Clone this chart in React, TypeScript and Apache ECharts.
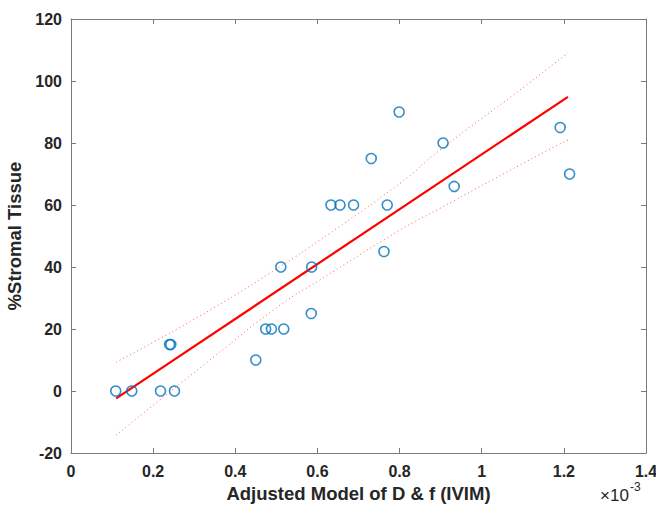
import React, { useEffect, useRef } from "react";
import * as echarts from "echarts";

// x values are in units of 1e-3
const pointsX = [0.109, 0.148, 0.218, 0.252, 0.240, 0.243, 0.450, 0.474, 0.488, 0.518, 0.511, 0.585, 0.586, 0.633, 0.655, 0.688, 0.731, 0.762, 0.770, 0.799, 0.906, 0.933, 1.191, 1.214];
const pointsY = [0, 0, 0, 0, 15, 15, 10, 20, 20, 20, 40, 25, 40, 60, 60, 60, 75, 45, 60, 90, 80, 66, 85, 70];

const fitX = [0.11, 1.21];
const fitY = [-2.4, 94.9];

const upperX = [0.11, 0.314, 0.509, 0.606, 0.801, 0.898, 1.093, 1.21];
const upperY = [9.3, 24.2, 40.1, 48.7, 67.0, 77.7, 97.1, 109.1];
const lowerX = [0.11, 0.343, 0.509, 0.606, 0.801, 0.898, 1.093, 1.21];
const lowerY = [-14.2, 10.5, 27.7, 35.8, 51.9, 58.9, 72.9, 81.0];

const xTitle = "Adjusted Model of D & f (IVIM)";
const yTitle = "%Stromal Tissue";
const exponentBase = "×10";
const exponentPower = "-3";

const zip = (xs: number[], ys: number[]) => xs.map((x, i) => [x, ys[i]]);

export default function App() {
  const ref = useRef<HTMLDivElement>(null);
  useEffect(() => {
    if (!ref.current) return;
    const chart = echarts.init(ref.current, null, { renderer: "svg" });
    const font = "'Liberation Sans', Arial, sans-serif";
    const textColor = "#262626";
    const axisColor = "#7a7a7a";
    const baseX = {
      type: "value" as const,
      min: 0,
      max: 1.4,
      interval: 0.2,
      splitLine: { show: false },
      axisLine: { show: true, onZero: false, lineStyle: { color: axisColor, width: 1 } },
      axisTick: { show: true, inside: true, length: 5, lineStyle: { color: axisColor } },
    };
    const baseY = {
      type: "value" as const,
      min: -20,
      max: 120,
      interval: 20,
      splitLine: { show: false },
      axisLine: { show: true, onZero: false, lineStyle: { color: axisColor, width: 1 } },
      axisTick: { show: true, inside: true, length: 5, lineStyle: { color: axisColor } },
    };
    chart.setOption({
      animation: false,
      backgroundColor: "#ffffff",
      grid: { left: 71, right: 10, top: 19, bottom: 53, containLabel: false, outerBoundsMode: "none" },
      xAxis: [
        {
          ...baseX,
          position: "bottom",
          name: xTitle,
          nameLocation: "middle",
          nameGap: 31,
          nameTextStyle: { color: textColor, fontSize: 18.5, fontWeight: "bold", fontFamily: font },
          axisLabel: {
            color: textColor,
            fontSize: 16,
            fontWeight: "bold",
            fontFamily: font,
            margin: 10,
            formatter: (v: number) => String(Number(v.toFixed(1))),
          },
        },
        { ...baseX, position: "top", axisLabel: { show: false } },
      ],
      yAxis: [
        {
          ...baseY,
          position: "left",
          name: yTitle,
          nameLocation: "middle",
          nameGap: 42,
          nameTextStyle: { color: textColor, fontSize: 18.5, fontWeight: "bold", fontFamily: font },
          axisLabel: { color: textColor, fontSize: 16, fontWeight: "bold", fontFamily: font, margin: 9 },
        },
        { ...baseY, position: "right", axisLabel: { show: false } },
      ],
      graphic: [
        {
          type: "text",
          left: 600,
          top: 487,
          style: { text: exponentBase, fontSize: 17, fontFamily: font, fill: textColor },
        },
        {
          type: "text",
          left: 630,
          top: 481,
          style: { text: exponentPower, fontSize: 12, fontFamily: font, fill: textColor },
        },
      ],
      series: [
        {
          type: "line",
          data: zip(upperX, upperY),
          showSymbol: false,
          symbol: "none",
          smooth: true,
          lineStyle: { color: "rgba(255,0,0,0.65)", width: 1, type: [1, 3] },
          z: 2,
        },
        {
          type: "line",
          data: zip(lowerX, lowerY),
          showSymbol: false,
          symbol: "none",
          smooth: true,
          lineStyle: { color: "rgba(255,0,0,0.65)", width: 1, type: [1, 3] },
          z: 2,
        },
        {
          type: "line",
          data: zip(fitX, fitY),
          showSymbol: false,
          symbol: "none",
          lineStyle: { color: "#ff0000", width: 2.2 },
          z: 3,
        },
        {
          type: "scatter",
          data: zip(pointsX, pointsY),
          symbol: "circle",
          symbolSize: 10,
          itemStyle: { color: "rgba(0,0,0,0)", borderColor: "#0072BD", borderWidth: 1.6 },
          z: 4,
        },
      ],
    });
    return () => chart.dispose();
  }, []);
  return <div ref={ref} style={{ width: 656, height: 506, position: "absolute", left: 0, top: 0 }} />;
}
